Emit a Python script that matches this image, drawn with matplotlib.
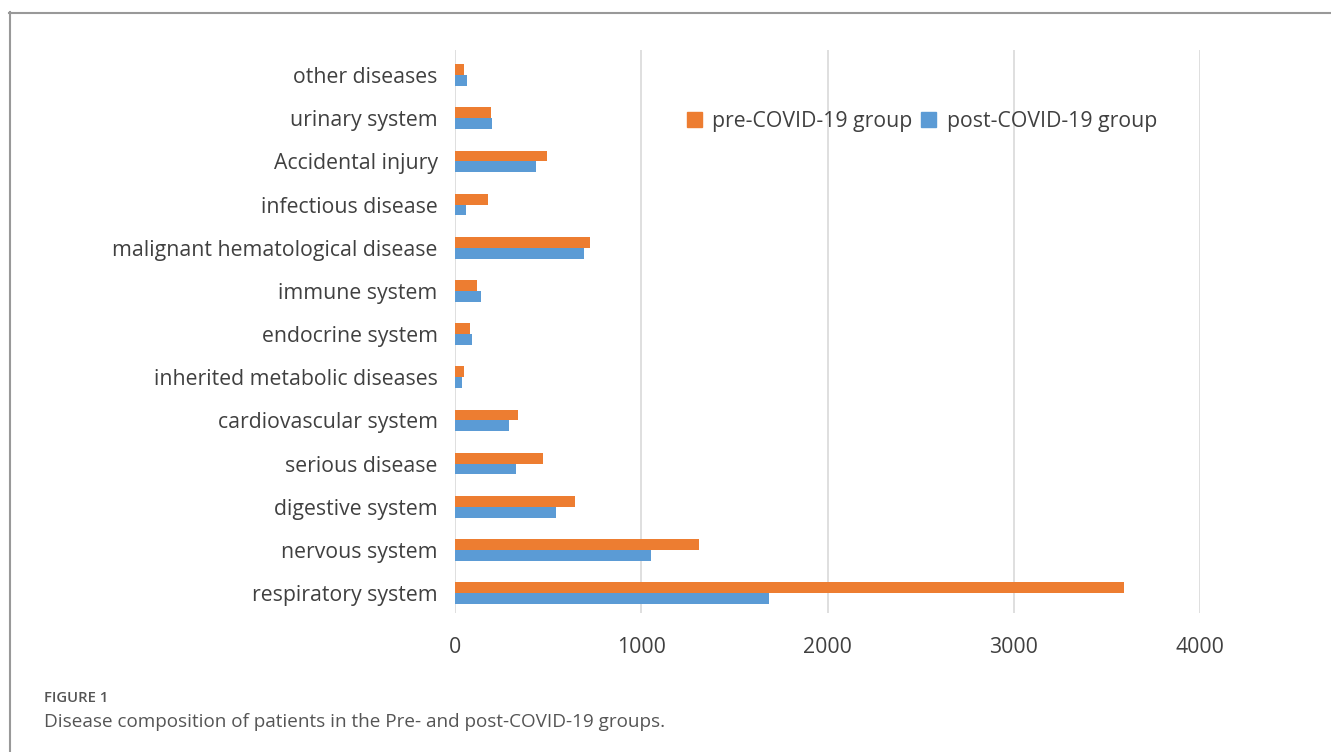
import numpy as np
import matplotlib
matplotlib.use('Agg')
import matplotlib.pyplot as plt
from matplotlib.lines import Line2D
from matplotlib.patches import Patch

# categories listed bottom to top, as drawn
categories = ['respiratory system', 'nervous system', 'digestive system', 'serious disease',
              'cardiovascular system', 'inherited metabolic diseases', 'endocrine system',
              'immune system', 'malignant hematological disease', 'infectious disease',
              'Accidental injury', 'urinary system', 'other diseases']
pre_covid = [3591, 1310, 644, 474, 336, 46, 80, 118, 725, 179, 494, 192, 48]
post_covid = [1684, 1052, 540, 329, 290, 40, 93, 138, 691, 59, 435, 199, 66]
xticks = [0, 1000, 2000, 3000, 4000]

orange = '#ed7d31'
blue = '#5b9bd5'
txt = '#404040'

plt.rcParams['font.family'] = ['Open Sans', 'DejaVu Sans']

W, H = 1331, 752
fig = plt.figure(figsize=(W / 100, H / 100), dpi=100)
ax = fig.add_axes([455 / W, 1 - 613 / H, (1200 - 455) / W, (613 - 50) / H])

y = np.arange(len(categories))
h = 0.25
ax.barh(y + h / 2, pre_covid, height=h, color=orange, label='pre-COVID-19 group')
ax.barh(y - h / 2, post_covid, height=h, color=blue, label='post-COVID-19 group')

ax.set_xlim(0, 4000)
ax.set_ylim(-0.46, len(categories) - 1 + 0.58)
ax.set_xticks(xticks)
ax.set_xticklabels([str(t) for t in xticks], fontsize=15.3, color=txt)
ax.set_yticks(y)
ax.set_yticklabels(categories, fontsize=15.3, color=txt)
ax.tick_params(length=0)
ax.tick_params(axis='y', pad=12.5)
ax.tick_params(axis='x', pad=17)
ax.xaxis.grid(True, color='#d9d9d9', linewidth=1.2)
ax.set_axisbelow(True)
for s in ax.spines.values():
    s.set_visible(False)

handles = [Patch(color=orange, label='pre-COVID-19 group'),
           Patch(color=blue, label='post-COVID-19 group')]
leg = fig.legend(handles=handles, loc='center', bbox_to_anchor=(922 / W, 1 - 121 / H),
                 ncol=2, frameon=False, fontsize=15.3, handlelength=0.7, handleheight=0.7,
                 handletextpad=0.5, columnspacing=0.4)
for t in leg.get_texts():
    t.set_color(txt)

# outer frame (runs off the right and bottom of the image)
fig.add_artist(Line2D([9 / W, 1.01], [1 - 12.5 / H, 1 - 12.5 / H], color='#999999', lw=1.5))
fig.add_artist(Line2D([9.5 / W, 9.5 / W], [1 - 12 / H, -0.01], color='#999999', lw=1.5))

fig.text(44 / W, 1 - 698 / H, 'FIGURE 1', fontsize=10.7, color='#555555',
         fontweight='semibold', va='center')
fig.text(44 / W, 1 - 722 / H, 'Disease composition of patients in the Pre- and post-COVID-19 groups.',
         fontsize=13.6, color='#555555', va='center')

fig.savefig('out.png', dpi=100)
